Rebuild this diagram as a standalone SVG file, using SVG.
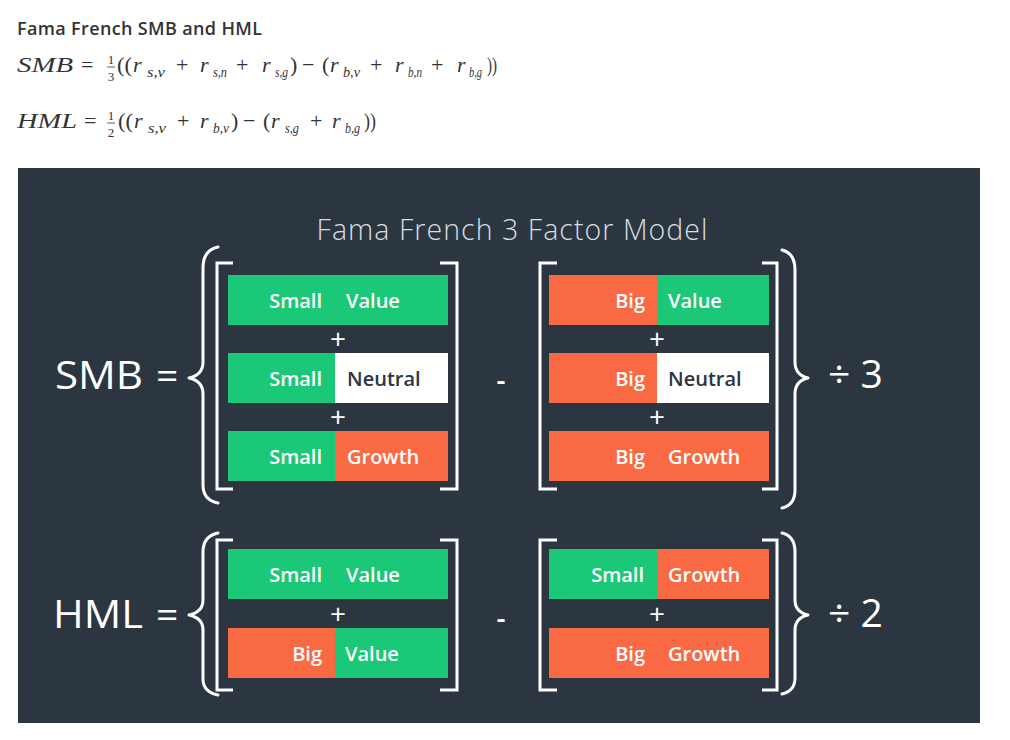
<svg xmlns="http://www.w3.org/2000/svg" width="1010" height="740" viewBox="0 0 1010 740">
<style>
.hd{font-family:"Open Sans","Liberation Sans",sans-serif;font-weight:600;font-size:18px;fill:#333}
.mi{font-family:"Liberation Serif","DejaVu Serif",serif;font-style:italic;font-size:22px;fill:#333}
.mo{font-family:"Liberation Serif","DejaVu Serif",serif;font-size:22px;fill:#333}
.ms{font-family:"Liberation Serif","DejaVu Serif",serif;font-style:italic;font-size:14px;fill:#333}
.mf{font-family:"Liberation Serif","DejaVu Serif",serif;font-size:13px;fill:#333;text-anchor:middle}
.title{font-family:"Open Sans","Liberation Sans",sans-serif;font-weight:300;font-size:28.5px;fill:#d9dde0;text-anchor:middle}
.big{font-family:"Open Sans","Liberation Sans",sans-serif;font-size:39px;fill:#ffffff}
.lab{font-family:"Open Sans","Liberation Sans",sans-serif;font-weight:600;font-size:20px;fill:#ffffff}
.dk{fill:#2b3641}
.end{text-anchor:end}
.op{font-family:"Open Sans","Liberation Sans",sans-serif;font-size:28px;fill:#ffffff;text-anchor:middle}
.g{fill:#1bc877}
.o{fill:#f96a44}
.w{fill:#ffffff}
.br{fill:none;stroke:#ffffff;stroke-width:3;stroke-linecap:butt;stroke-linejoin:miter}
.bc{fill:none;stroke:#ffffff;stroke-width:3;stroke-linecap:round;stroke-linejoin:round}
</style>

<g id="header">
<text class="hd" x="17" y="35" textLength="245">Fama French SMB and HML</text>
</g>

<g id="formula-smb">
<text class="mi" x="17" y="72" textLength="56" lengthAdjust="spacingAndGlyphs">SMB</text>
<text class="mo" x="81" y="72">=</text>
<text class="mf" x="111" y="64">1</text>
<line x1="107" y1="67" x2="115" y2="67" stroke="#333" stroke-width="0.8"/>
<text class="mf" x="111" y="81">3</text>
<text class="mo" x="117" y="72" textLength="15" lengthAdjust="spacingAndGlyphs">((</text>
<text class="mi" x="133" y="72">r</text><text class="ms" x="147" y="77" textLength="18" lengthAdjust="spacingAndGlyphs">s,v</text>
<text class="mo" x="176" y="72">+</text>
<text class="mi" x="200" y="72">r</text><text class="ms" x="213" y="77" textLength="14" lengthAdjust="spacingAndGlyphs">s,n</text>
<text class="mo" x="236" y="72">+</text>
<text class="mi" x="262" y="72">r</text><text class="ms" x="275" y="77" textLength="13" lengthAdjust="spacingAndGlyphs">s,g</text>
<text class="mo" x="290" y="72">)</text>
<text class="mo" x="302" y="72">−</text>
<text class="mo" x="322" y="72">(</text>
<text class="mi" x="330" y="72">r</text><text class="ms" x="343" y="77" textLength="17" lengthAdjust="spacingAndGlyphs">b,v</text>
<text class="mo" x="370" y="72">+</text>
<text class="mi" x="395" y="72">r</text><text class="ms" x="408" y="77" textLength="14" lengthAdjust="spacingAndGlyphs">b,n</text>
<text class="mo" x="431" y="72">+</text>
<text class="mi" x="457" y="72">r</text><text class="ms" x="469" y="77" textLength="13" lengthAdjust="spacingAndGlyphs">b,g</text>
<text class="mo" x="487" y="72" textLength="10" lengthAdjust="spacingAndGlyphs">))</text>
</g>

<g id="formula-hml">
<text class="mi" x="17" y="128" textLength="60" lengthAdjust="spacingAndGlyphs">HML</text>
<text class="mo" x="84" y="128">=</text>
<text class="mf" x="111" y="120">1</text>
<line x1="107" y1="123" x2="115" y2="123" stroke="#333" stroke-width="0.8"/>
<text class="mf" x="111" y="137">2</text>
<text class="mo" x="118" y="128" textLength="15" lengthAdjust="spacingAndGlyphs">((</text>
<text class="mi" x="134" y="128">r</text><text class="ms" x="148" y="133" textLength="18" lengthAdjust="spacingAndGlyphs">s,v</text>
<text class="mo" x="177" y="128">+</text>
<text class="mi" x="200" y="128">r</text><text class="ms" x="213" y="133" textLength="16" lengthAdjust="spacingAndGlyphs">b,v</text>
<text class="mo" x="231" y="128">)</text>
<text class="mo" x="243" y="128">−</text>
<text class="mo" x="263" y="128">(</text>
<text class="mi" x="271" y="128">r</text><text class="ms" x="285" y="133" textLength="14" lengthAdjust="spacingAndGlyphs">s,g</text>
<text class="mo" x="310" y="128">+</text>
<text class="mi" x="332" y="128">r</text><text class="ms" x="345" y="133" textLength="15" lengthAdjust="spacingAndGlyphs">b,g</text>
<text class="mo" x="364" y="128" textLength="12" lengthAdjust="spacingAndGlyphs">))</text>
</g>

<rect id="panel" x="18" y="168" width="962" height="555" fill="#2b3641"/>

<g id="title">
<text class="title" x="512" y="240" textLength="391">Fama French 3 Factor Model</text>
</g>

<g id="connectors">
<path class="bc" d="M218,247 Q203,250 203,268 L203,362 Q203,375 189,378 Q203,381 203,394 L203,485 Q203,500 218,503"/>
<path class="bc" d="M782,250 Q795,253 795,270 L795,362 Q795,375 808,378 Q795,381 795,394 L795,490 Q795,505 782,508"/>
<path class="br" d="M233,263 L217,263 L217,489 L233,489"/>
<path class="br" d="M440,263 L457,263 L457,489 L440,489"/>
<path class="br" d="M557,263 L540,263 L540,489 L557,489"/>
<path class="br" d="M762,263 L777,263 L777,489 L762,489"/>
<path class="bc" d="M218,533 Q203,536 203,552 L203,600 Q203,612 189,615 Q203,618 203,630 L203,679 Q203,692 218,695"/>
<path class="bc" d="M782,533 Q795,536 795,552 L795,600 Q795,612 808,615 Q795,618 795,630 L795,678 Q795,691 782,694"/>
<path class="br" d="M233,540 L217,540 L217,690 L233,690"/>
<path class="br" d="M440,540 L457,540 L457,690 L440,690"/>
<path class="br" d="M557,540 L540,540 L540,690 L557,690"/>
<path class="br" d="M762,540 L777,540 L777,690 L762,690"/>
</g>

<g id="smb-label">
<text class="big" x="55" y="389" textLength="88" lengthAdjust="spacingAndGlyphs">SMB</text>
<text class="big" x="156" y="389">=</text>
</g>

<g id="hml-label">
<text class="big" x="53" y="628" textLength="90" lengthAdjust="spacingAndGlyphs">HML</text>
<text class="big" x="156" y="628">=</text>
</g>

<g id="smb-small-value">
<rect class="g" x="228" y="275" width="220" height="50"/>
<text class="lab end" x="322" y="308">Small</text>
<text class="lab" x="346" y="308">Value</text>
</g>
<g id="smb-plus1"><text class="op" x="338" y="349">+</text></g>
<g id="smb-small-neutral">
<rect class="g" x="228" y="353" width="107" height="50"/>
<rect class="w" x="335" y="353" width="113" height="50"/>
<text class="lab end" x="322" y="386">Small</text>
<text class="lab dk" x="347" y="386">Neutral</text>
</g>
<g id="smb-plus2"><text class="op" x="338" y="427">+</text></g>
<g id="smb-small-growth">
<rect class="g" x="228" y="431" width="107" height="50"/>
<rect class="o" x="335" y="431" width="113" height="50"/>
<text class="lab end" x="322" y="464">Small</text>
<text class="lab" x="347" y="464">Growth</text>
</g>

<g id="smb-minus"><text class="op" x="501" y="390" font-weight="600" font-size="34">-</text></g>

<g id="smb-big-value">
<rect class="o" x="549" y="275" width="108" height="50"/>
<rect class="g" x="657" y="275" width="112" height="50"/>
<text class="lab end" x="645" y="308">Big</text>
<text class="lab" x="668" y="308">Value</text>
</g>
<g id="smb-plus3"><text class="op" x="657" y="349">+</text></g>
<g id="smb-big-neutral">
<rect class="o" x="549" y="353" width="108" height="50"/>
<rect class="w" x="657" y="353" width="112" height="50"/>
<text class="lab end" x="645" y="386">Big</text>
<text class="lab dk" x="668" y="386">Neutral</text>
</g>
<g id="smb-plus4"><text class="op" x="657" y="427">+</text></g>
<g id="smb-big-growth">
<rect class="o" x="549" y="431" width="220" height="50"/>
<text class="lab end" x="645" y="464">Big</text>
<text class="lab" x="668" y="464">Growth</text>
</g>

<g id="smb-div"><text class="big" x="828" y="388">÷ 3</text></g>

<g id="hml-small-value">
<rect class="g" x="228" y="549" width="220" height="50"/>
<text class="lab end" x="322" y="582">Small</text>
<text class="lab" x="346" y="582">Value</text>
</g>
<g id="hml-plus1"><text class="op" x="338" y="624">+</text></g>
<g id="hml-big-value">
<rect class="o" x="228" y="628" width="107" height="50"/>
<rect class="g" x="335" y="628" width="113" height="50"/>
<text class="lab end" x="322" y="661">Big</text>
<text class="lab" x="345" y="661">Value</text>
</g>

<g id="hml-minus"><text class="op" x="501" y="628" font-weight="600" font-size="34">-</text></g>

<g id="hml-small-growth">
<rect class="g" x="549" y="549" width="108" height="50"/>
<rect class="o" x="657" y="549" width="112" height="50"/>
<text class="lab end" x="644" y="582">Small</text>
<text class="lab" x="668" y="582">Growth</text>
</g>
<g id="hml-plus2"><text class="op" x="657" y="624">+</text></g>
<g id="hml-big-growth">
<rect class="o" x="549" y="628" width="220" height="50"/>
<text class="lab end" x="645" y="661">Big</text>
<text class="lab" x="668" y="661">Growth</text>
</g>

<g id="hml-div"><text class="big" x="828" y="627">÷ 2</text></g>
</svg>
